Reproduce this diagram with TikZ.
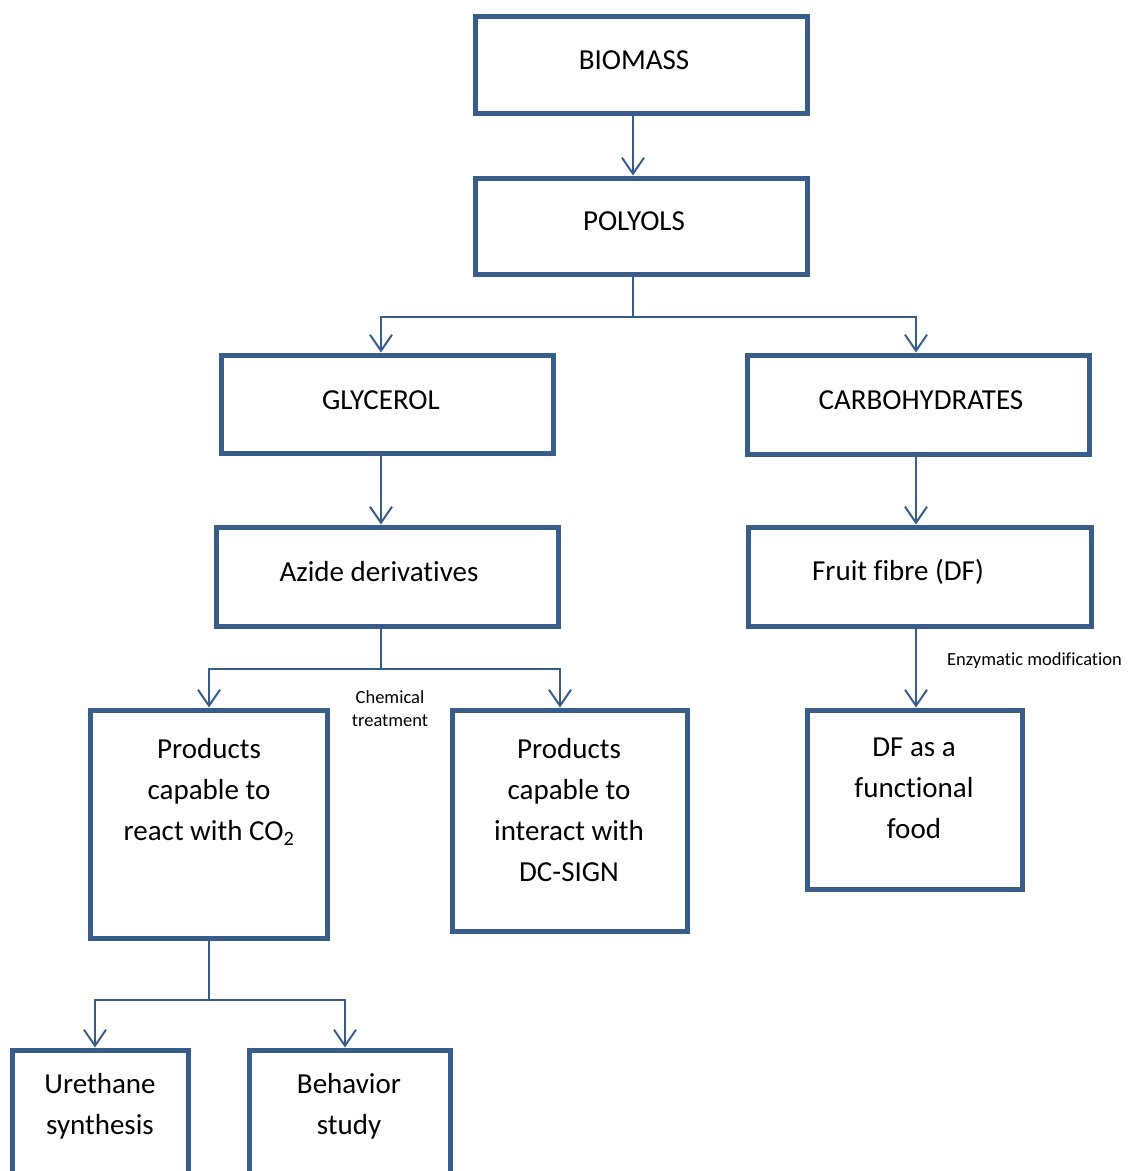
\documentclass[tikz,border=0pt]{standalone}
\usepackage{fontspec}
\setmainfont{Carlito}[Ligatures={NoCommon}]
\usetikzlibrary{arrows.meta}
\definecolor{bl}{HTML}{385D8A}
\tikzset{
  box/.style={draw=bl, line width=5pt, rectangle, inner sep=0pt},
  txt/.style={font=\fontsize{29}{41}\selectfont, align=center, inner sep=0pt},
  small/.style={font=\fontsize{18.5}{23}\selectfont, align=center, inner sep=0pt},
  con/.style={draw=bl, line width=2pt},
  arr/.style={con, -{Straight Barb[length=16pt,width=22pt,line width=2pt]}}
}
\begin{document}
\begin{tikzpicture}[x=1pt,y=-1pt]
\useasboundingbox (0,0) rectangle (1128,1171);
\begin{scope}
\clip (0,0) rectangle (1128,1171);
% boxes
\node[box, minimum width=332pt, minimum height=97pt] (bio) at (641,64.5) {};
\node[box, minimum width=332pt, minimum height=96pt] (pol) at (641,226) {};
\node[box, minimum width=332pt, minimum height=98pt] (gly) at (387,404) {};
\node[box, minimum width=342pt, minimum height=99pt] (carb) at (918,404.5) {};
\node[box, minimum width=342pt, minimum height=99pt] (azi) at (387,576.5) {};
\node[box, minimum width=343pt, minimum height=99pt] (fru) at (919.5,576.5) {};
\node[box, minimum width=237pt, minimum height=228pt] (pco) at (208.5,824) {};
\node[box, minimum width=235pt, minimum height=221pt] (pdc) at (569.5,820.5) {};
\node[box, minimum width=215pt, minimum height=179pt] (df) at (914.5,799.5) {};
\node[box, minimum width=176pt, minimum height=150pt] (ure) at (100,1125) {};
\node[box, minimum width=201pt, minimum height=150pt] (beh) at (349.5,1125) {};
% texts
\node[txt] (tbio) at (634,60) {BIOMASS};
\node[txt] (tpol) at (634,221) {POLYOLS};
\node[txt] (tgly) at (381,400) {GLYCEROL};
\node[txt] (tcarb) at (921,400) {CARBOHYDRATES};
\node[txt] (tazi) at (379,572) {Azide derivatives};
\node[txt] (tfru) at (898,572) {Fruit fibre (DF)};
\node[txt] (tpco) at (209,792) {Products\\capable to\\react with CO\textsubscript{2}};
\node[txt] (tpdc) at (569,810) {Products\\capable to\\interact with\\DC-SIGN};
\node[txt] (tdf) at (914,788) {DF as a\\functional\\food};
\node[txt] (ture) at (100,1106) {Urethane\\synthesis};
\node[txt] (tbeh) at (349,1106) {Behavior\\study};
\node[small] (lchem) at (390,709) {Chemical\\treatment};
\node[small] (lenz) at (1034.5,661) {Enzymatic modification};
% connectors
\draw[arr] ([xshift=-8pt]bio.south) -- ([xshift=-8pt]pol.north);
\coordinate (j1) at (633,317);
\draw[con] ([xshift=-8pt]pol.south) -- (j1);
\draw[arr] (j1) -| ([xshift=-6pt]gly.north);
\draw[arr] (j1) -| ([xshift=-2pt]carb.north);
\draw[arr] ([xshift=-6pt]gly.south) -- ([xshift=-6pt]azi.north);
\draw[arr] ([xshift=-2pt]carb.south) -- ([xshift=-3.5pt]fru.north);
\coordinate (j2) at (381,669);
\draw[con] ([xshift=-6pt]azi.south) -- (j2);
\draw[arr] (j2) -| ([xshift=0.5pt]pco.north);
\draw[arr] (j2) -| ([xshift=-9.5pt]pdc.north);
\draw[arr] ([xshift=-3.5pt]fru.south) -- ([xshift=1.5pt]df.north);
\coordinate (j3) at (209,1000);
\draw[con] ([xshift=0.5pt]pco.south) -- (j3);
\draw[arr] (j3) -| ([xshift=-5pt]ure.north);
\draw[arr] (j3) -| ([xshift=-4.5pt]beh.north);
\end{scope}
\end{tikzpicture}
\end{document}
